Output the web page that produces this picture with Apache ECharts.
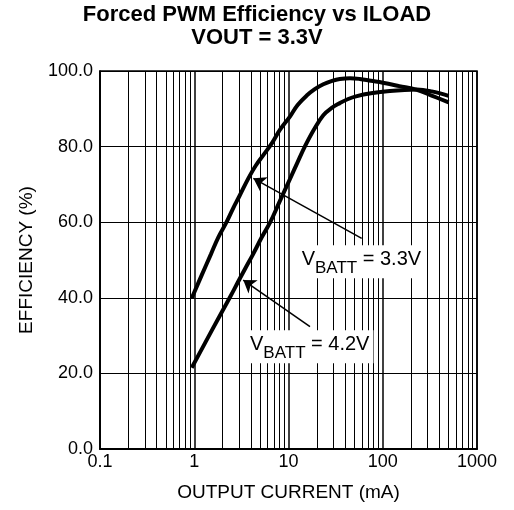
<!DOCTYPE html>
<html>
<head>
<meta charset="utf-8">
<script src="https://cdn.jsdelivr.net/npm/echarts@6/dist/echarts.min.js"></script>
<style>
  html, body { margin: 0; padding: 0; background: #fff; }
  #chart { width: 514px; height: 510px; }
</style>
</head>
<body>
<div id="chart"></div>
<script>
// Efficiency (%) vs output current (mA), forced PWM mode, VOUT = 3.3 V
const vbatt33 = [
  [0.94, 39.9], [1.2, 46.0], [1.5, 51.5], [1.8, 56.0], [2.2, 60.0],
  [2.6, 63.8], [3.0, 66.8], [3.75, 71.6], [4.5, 75.0], [5.5, 78.0],
  [6.7, 81.0], [8.1, 84.4], [10.4, 88.0], [12.5, 91.0], [15.6, 93.5],
  [19, 95.2], [23.4, 96.5], [29, 97.4], [35, 97.9], [45, 98.1],
  [57, 97.9], [75, 97.4], [100, 96.9], [150, 96.0], [230, 95.0],
  [330, 93.5], [500, 91.7]
];
const vbatt42 = [
  [0.94, 21.5], [1.3, 28.0], [1.88, 35.4], [2.4, 40.2], [2.93, 44.3],
  [3.5, 47.9], [4.2, 51.5], [5.2, 56.0], [6.4, 60.0], [8.0, 65.3],
  [10.4, 71.5], [12.5, 75.9], [14.9, 80.0], [18.5, 84.4], [23.4, 88.3],
  [29, 90.3], [35, 91.5], [43, 92.6], [52, 93.3], [75, 94.1],
  [119, 94.7], [170, 95.0], [230, 95.1], [330, 94.6], [500, 93.4]
];

// Axis ticks and log-decade subdivisions
const xTickLabels = ['0.1', '1', '10', '100', '1000'];
const yTickLabels = ['0.0', '20.0', '40.0', '60.0', '80.0', '100.0'];
const xMinorLines = [
  0.2, 0.3, 0.4, 0.5, 0.6, 0.7, 0.8, 0.9,
  2, 3, 4, 5, 6, 7, 8, 9,
  20, 30, 40, 50, 60, 70, 80, 90,
  200, 300, 400, 500, 600, 700, 800, 900
];

// Callouts: [tail, tip] of each arrow and anchor of each text
const arrow33 = [[59.8, 55.7], [4.24, 71.6]];
const arrow42 = [[16.9, 32.4], [3.31, 44.7]];
const label33 = { at: [12.5, 49.55], text: '{v|V}{s|BATT}{e| = 3.3V}' };
const label42 = { at: [3.54, 27.06], text: '{v|V}{s|BATT}{e| = 4.2V}' };

const FONT = '"Liberation Sans", Arial, Helvetica, sans-serif';

const chart = echarts.init(document.getElementById('chart'), null, { renderer: 'canvas' });

// subscript: the BATT token sits at the bottom of a taller line
const calloutRich = {
  v: { fontSize: 20, lineHeight: 20, verticalAlign: 'top', color: '#000', fontFamily: FONT },
  s: { fontSize: 17, lineHeight: 28, verticalAlign: 'bottom', color: '#000', fontFamily: FONT },
  e: { fontSize: 20, lineHeight: 20, verticalAlign: 'top', color: '#000', fontFamily: FONT }
};

function callout(lbl) {
  return {
    value: lbl.at,
    label: {
      show: true,
      position: 'right',
      distance: 0,
      formatter: lbl.text,
      color: '#000',
      opacity: 1,
      textBorderWidth: 0,
      backgroundColor: '#fff',
      padding: [4, 4, 1, 4],
      rich: calloutRich
    }
  };
}

function arrowLine(a) {
  return [{ coord: a[0] }, { coord: a[1] }];
}

chart.setOption({
  animation: false,
  backgroundColor: '#fff',
  title: {
    text: 'Forced PWM Efficiency vs ILOAD\nVOUT = 3.3V',
    left: 'center',
    top: 3,
    padding: 0,
    textStyle: { fontFamily: FONT, fontSize: 22, fontWeight: 'bold', color: '#000', lineHeight: 23.5 }
  },
  grid: {
    left: 100, right: 37, top: 71, bottom: 61,
    show: true, borderColor: '#000', borderWidth: 1.5, backgroundColor: 'transparent'
  },
  xAxis: {
    type: 'log',
    logBase: 10,
    min: 0.1,
    max: 1000,
    name: 'OUTPUT CURRENT (mA)',
    nameLocation: 'middle',
    nameGap: 34,
    nameTextStyle: { fontFamily: FONT, fontSize: 19, color: '#000' },
    axisLine: { show: true, lineStyle: { color: '#000', width: 2 } },
    axisTick: { show: false },
    axisLabel: {
      fontFamily: FONT, fontSize: 18, color: '#000', margin: 4,
      formatter: (v, i) => xTickLabels[i]
    },
    splitLine: { show: true, lineStyle: { color: '#000', width: 1.5 } },
    minorSplitLine: { show: false }
  },
  yAxis: {
    type: 'value',
    min: 0,
    max: 100,
    interval: 20,
    name: 'EFFICIENCY (%)',
    nameLocation: 'middle',
    nameGap: 64,
    nameTextStyle: { fontFamily: FONT, fontSize: 19, color: '#000' },
    axisLine: { show: true, lineStyle: { color: '#000', width: 1.5 } },
    axisTick: { show: false },
    axisLabel: {
      fontFamily: FONT, fontSize: 18, color: '#000', margin: 7,
      formatter: (v, i) => yTickLabels[i]
    },
    splitLine: { show: true, lineStyle: { color: '#000', width: 1.2 } }
  },
  series: [
    {
      // vertical grid lines inside each decade
      name: 'decade grid',
      type: 'line',
      data: [],
      silent: true,
      z: 1,
      markLine: {
        silent: true,
        symbol: ['none', 'none'],
        label: { show: false },
        lineStyle: { color: '#000', width: 1, type: 'solid' },
        animation: false,
        data: xMinorLines.map(v => ({ xAxis: v }))
      }
    },
    {
      name: 'VBATT = 3.3V',
      type: 'line',
      data: vbatt33,
      smooth: 0.4,
      showSymbol: false,
      symbol: 'none',
      z: 5,
      lineStyle: { color: '#000', width: 4, cap: 'butt' }
    },
    {
      name: 'VBATT = 4.2V',
      type: 'line',
      data: vbatt42,
      smooth: 0.4,
      showSymbol: false,
      symbol: 'none',
      z: 5,
      lineStyle: { color: '#000', width: 4, cap: 'butt' }
    },
    {
      // callout arrows
      name: 'arrows',
      type: 'line',
      data: [],
      silent: true,
      z: 6,
      markLine: {
        silent: true,
        symbol: ['none', 'arrow'],
        symbolSize: 12,
        label: { show: false },
        lineStyle: { color: '#000', width: 1.5, type: 'solid' },
        itemStyle: { color: '#000' },
        animation: false,
        data: [arrowLine(arrow33), arrowLine(arrow42)]
      }
    },
    {
      // callout texts
      name: 'callouts',
      type: 'scatter',
      symbolSize: 0,
      silent: true,
      z: 10,
      itemStyle: { opacity: 1 },
      data: [callout(label33), callout(label42)]
    }
  ]
});
</script>
</body>
</html>
